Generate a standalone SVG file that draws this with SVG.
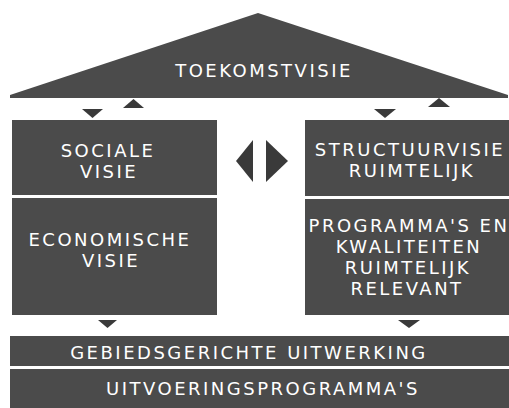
<svg xmlns="http://www.w3.org/2000/svg" width="509" height="408" viewBox="0 0 509 408">
<defs>
<style>
.blk{fill:#4b4b4b;}
.arr{fill:#3a3a3a;}
.t{font-family:"DejaVu Sans",Verdana,sans-serif;font-size:18px;letter-spacing:2.5px;fill:#ffffff;text-anchor:middle;}
</style>
</defs>
<rect width="509" height="408" fill="#ffffff"/>
<g id="toekomstvisie">
<polygon class="blk" points="258,13 508,95 508,98 10,98 10,95"/>
<text class="t" x="264" y="77">TOEKOMSTVISIE</text>
</g>
<g id="sociale-visie">
<rect class="blk" x="12" y="120" width="205" height="75"/>
<text class="t" x="108" y="157">SOCIALE</text>
<text class="t" x="109" y="178">VISIE</text>
</g>
<g id="economische-visie">
<rect class="blk" x="12" y="198" width="205" height="117"/>
<text class="t" x="110" y="246">ECONOMISCHE</text>
<text class="t" x="111" y="267">VISIE</text>
</g>
<g id="structuurvisie">
<rect class="blk" x="305" y="120" width="204" height="76"/>
<text class="t" x="410" y="156">STRUCTUURVISIE</text>
<text class="t" x="412" y="177">RUIMTELIJK</text>
</g>
<g id="programmas">
<rect class="blk" x="305" y="199" width="204" height="116"/>
<text class="t" x="409" y="232">PROGRAMMA'S EN</text>
<text class="t" x="409" y="253">KWALITEITEN</text>
<text class="t" x="408" y="274">RUIMTELIJK</text>
<text class="t" x="407" y="295">RELEVANT</text>
</g>
<g id="gebiedsgerichte-uitwerking">
<rect class="blk" x="10" y="336" width="499" height="30"/>
<text class="t" x="249" y="359">GEBIEDSGERICHTE UITWERKING</text>
</g>
<g id="uitvoeringsprogrammas">
<rect class="blk" x="10" y="369" width="499" height="39"/>
<text class="t" x="263" y="395">UITVOERINGSPROGRAMMA'S</text>
</g>
<g id="connectors">
<polygon class="arr" points="82,109 103,109 92.5,118"/>
<polygon class="arr" points="123,108 144,108 133.5,99"/>
<polygon class="arr" points="374,109 396,109 385,118"/>
<polygon class="arr" points="428,107 450,107 439,98"/>
<polygon class="arr" points="236,161 253,140 253,182"/>
<polygon class="arr" points="266,140 266,182 288,161"/>
<polygon class="arr" points="98,320 117,320 107.5,328"/>
<polygon class="arr" points="398,320 420,320 409,328"/>
</g>
</svg>
